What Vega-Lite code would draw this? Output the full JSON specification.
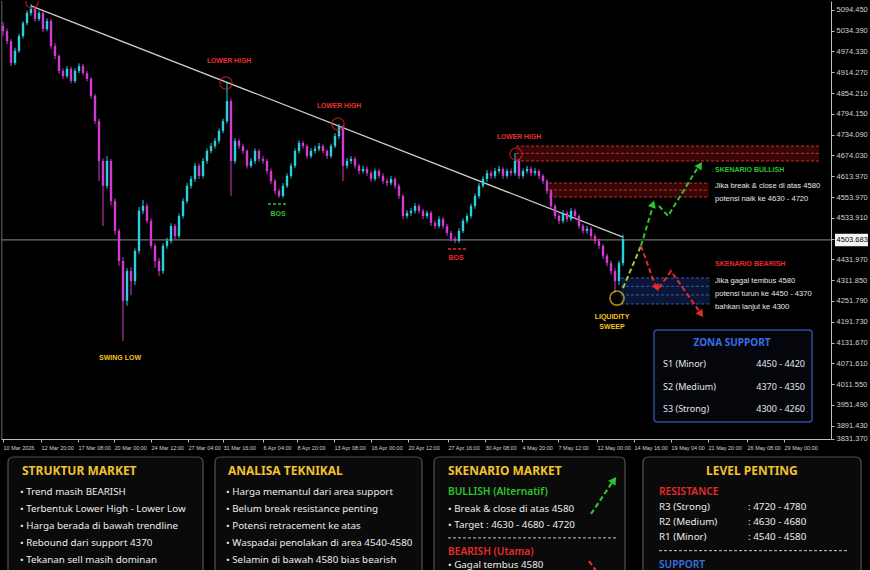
{
  "$schema": "https://vega.github.io/schema/vega-lite/v6.json",
  "background": "#000000",
  "padding": 0,
  "spacing": 2,
  "config": {"view": {"stroke": null}, "axis": {"grid": false, "title": null}, "text": {"font": "Liberation Sans"}},
  "datasets": {
    "candles": [
      {"i":0,"o":5048,"h":5060,"l":5020,"c":5033},{"i":1,"o":5033,"h":5040,"l":4995,"c":5004},{"i":2,"o":5004,"h":5010,"l":4932,"c":4941},{"i":3,"o":4941,"h":4985,"l":4935,"c":4976},{"i":4,"o":4976,"h":5025,"l":4970,"c":5019},{"i":5,"o":5019,"h":5062,"l":5012,"c":5056},{"i":6,"o":5056,"h":5092,"l":5050,"c":5085},{"i":7,"o":5085,"h":5111,"l":5078,"c":5097},{"i":8,"o":5097,"h":5102,"l":5060,"c":5068},{"i":9,"o":5068,"h":5092,"l":5062,"c":5085},
      {"i":10,"o":5085,"h":5090,"l":5030,"c":5039},{"i":11,"o":5039,"h":5070,"l":5033,"c":5062},{"i":12,"o":5062,"h":5068,"l":4982,"c":4990},{"i":13,"o":4990,"h":4998,"l":4952,"c":4961},{"i":14,"o":4961,"h":4966,"l":4910,"c":4918},{"i":15,"o":4918,"h":4925,"l":4895,"c":4903},{"i":16,"o":4903,"h":4932,"l":4897,"c":4924},{"i":17,"o":4924,"h":4930,"l":4882,"c":4889},{"i":18,"o":4889,"h":4926,"l":4883,"c":4918},{"i":19,"o":4918,"h":4940,"l":4912,"c":4932},
      {"i":20,"o":4932,"h":4938,"l":4905,"c":4912},{"i":21,"o":4912,"h":4918,"l":4888,"c":4895},{"i":22,"o":4895,"h":4900,"l":4838,"c":4846},{"i":23,"o":4846,"h":4852,"l":4765,"c":4773},{"i":24,"o":4773,"h":4780,"l":4600,"c":4658},{"i":25,"o":4658,"h":4665,"l":4470,"c":4586},{"i":26,"o":4586,"h":4672,"l":4578,"c":4658},{"i":27,"o":4658,"h":4664,"l":4530,"c":4542},{"i":28,"o":4542,"h":4550,"l":4445,"c":4456},{"i":29,"o":4456,"h":4462,"l":4355,"c":4369},
      {"i":30,"o":4369,"h":4380,"l":4138,"c":4254},{"i":31,"o":4254,"h":4348,"l":4240,"c":4340},{"i":32,"o":4340,"h":4352,"l":4270,"c":4311},{"i":33,"o":4311,"h":4405,"l":4300,"c":4398},{"i":34,"o":4398,"h":4525,"l":4390,"c":4514},{"i":35,"o":4514,"h":4545,"l":4505,"c":4528},{"i":36,"o":4528,"h":4535,"l":4478,"c":4485},{"i":37,"o":4485,"h":4492,"l":4405,"c":4413},{"i":38,"o":4413,"h":4420,"l":4350,"c":4369},{"i":39,"o":4369,"h":4378,"l":4326,"c":4340},
      {"i":40,"o":4340,"h":4420,"l":4332,"c":4413},{"i":41,"o":4413,"h":4436,"l":4405,"c":4427},{"i":42,"o":4427,"h":4478,"l":4420,"c":4470},{"i":43,"o":4470,"h":4476,"l":4432,"c":4441},{"i":44,"o":4441,"h":4506,"l":4435,"c":4499},{"i":45,"o":4499,"h":4550,"l":4492,"c":4542},{"i":46,"o":4542,"h":4594,"l":4535,"c":4586},{"i":47,"o":4586,"h":4615,"l":4578,"c":4606},{"i":48,"o":4606,"h":4652,"l":4598,"c":4644},{"i":49,"o":4644,"h":4650,"l":4606,"c":4615},
      {"i":50,"o":4615,"h":4666,"l":4608,"c":4658},{"i":51,"o":4658,"h":4694,"l":4650,"c":4687},{"i":52,"o":4687,"h":4710,"l":4680,"c":4701},{"i":53,"o":4701,"h":4724,"l":4694,"c":4716},{"i":54,"o":4716,"h":4752,"l":4708,"c":4745},{"i":55,"o":4745,"h":4780,"l":4738,"c":4773},{"i":56,"o":4773,"h":4883,"l":4766,"c":4831},{"i":57,"o":4831,"h":4838,"l":4557,"c":4658},{"i":58,"o":4658,"h":4724,"l":4650,"c":4716},{"i":59,"o":4716,"h":4722,"l":4693,"c":4701},
      {"i":60,"o":4701,"h":4708,"l":4678,"c":4687},{"i":61,"o":4687,"h":4692,"l":4636,"c":4644},{"i":62,"o":4644,"h":4666,"l":4638,"c":4658},{"i":63,"o":4658,"h":4694,"l":4650,"c":4687},{"i":64,"o":4687,"h":4692,"l":4656,"c":4664},{"i":65,"o":4664,"h":4672,"l":4650,"c":4658},{"i":66,"o":4658,"h":4664,"l":4620,"c":4629},{"i":67,"o":4629,"h":4636,"l":4592,"c":4600},{"i":68,"o":4600,"h":4606,"l":4562,"c":4571},{"i":69,"o":4571,"h":4578,"l":4551,"c":4557},
      {"i":70,"o":4557,"h":4594,"l":4552,"c":4586},{"i":71,"o":4586,"h":4622,"l":4580,"c":4615},{"i":72,"o":4615,"h":4652,"l":4608,"c":4644},{"i":73,"o":4644,"h":4694,"l":4638,"c":4687},{"i":74,"o":4687,"h":4718,"l":4680,"c":4710},{"i":75,"o":4710,"h":4716,"l":4694,"c":4701},{"i":76,"o":4701,"h":4706,"l":4664,"c":4672},{"i":77,"o":4672,"h":4695,"l":4666,"c":4687},{"i":78,"o":4687,"h":4702,"l":4680,"c":4693},{"i":79,"o":4693,"h":4710,"l":4686,"c":4701},
      {"i":80,"o":4701,"h":4706,"l":4680,"c":4687},{"i":81,"o":4687,"h":4692,"l":4664,"c":4672},{"i":82,"o":4672,"h":4708,"l":4666,"c":4701},{"i":83,"o":4701,"h":4738,"l":4695,"c":4730},{"i":84,"o":4730,"h":4765,"l":4722,"c":4756},{"i":85,"o":4756,"h":4762,"l":4600,"c":4644},{"i":86,"o":4644,"h":4666,"l":4636,"c":4658},{"i":87,"o":4658,"h":4672,"l":4650,"c":4664},{"i":88,"o":4664,"h":4670,"l":4636,"c":4644},{"i":89,"o":4644,"h":4650,"l":4620,"c":4629},
      {"i":90,"o":4629,"h":4644,"l":4622,"c":4635},{"i":91,"o":4635,"h":4642,"l":4615,"c":4623},{"i":92,"o":4623,"h":4630,"l":4598,"c":4606},{"i":93,"o":4606,"h":4636,"l":4600,"c":4629},{"i":94,"o":4629,"h":4635,"l":4608,"c":4615},{"i":95,"o":4615,"h":4622,"l":4592,"c":4600},{"i":96,"o":4600,"h":4608,"l":4585,"c":4594},{"i":97,"o":4594,"h":4614,"l":4588,"c":4606},{"i":98,"o":4606,"h":4612,"l":4578,"c":4586},{"i":99,"o":4586,"h":4592,"l":4548,"c":4557},
      {"i":100,"o":4557,"h":4562,"l":4490,"c":4499},{"i":101,"o":4499,"h":4516,"l":4492,"c":4508},{"i":102,"o":4508,"h":4522,"l":4500,"c":4514},{"i":103,"o":4514,"h":4536,"l":4506,"c":4528},{"i":104,"o":4528,"h":4534,"l":4506,"c":4514},{"i":105,"o":4514,"h":4520,"l":4490,"c":4499},{"i":106,"o":4499,"h":4515,"l":4492,"c":4508},{"i":107,"o":4508,"h":4514,"l":4470,"c":4479},{"i":108,"o":4479,"h":4486,"l":4462,"c":4470},{"i":109,"o":4470,"h":4498,"l":4464,"c":4490},
      {"i":110,"o":4490,"h":4496,"l":4462,"c":4470},{"i":111,"o":4470,"h":4476,"l":4442,"c":4450},{"i":112,"o":4450,"h":4456,"l":4426,"c":4433},{"i":113,"o":4433,"h":4440,"l":4421,"c":4427},{"i":114,"o":4427,"h":4464,"l":4422,"c":4456},{"i":115,"o":4456,"h":4492,"l":4450,"c":4485},{"i":116,"o":4485,"h":4506,"l":4478,"c":4499},{"i":117,"o":4499,"h":4535,"l":4492,"c":4528},{"i":118,"o":4528,"h":4564,"l":4520,"c":4557},{"i":119,"o":4557,"h":4594,"l":4550,"c":4586},
      {"i":120,"o":4586,"h":4614,"l":4580,"c":4606},{"i":121,"o":4606,"h":4632,"l":4598,"c":4623},{"i":122,"o":4623,"h":4630,"l":4606,"c":4615},{"i":123,"o":4615,"h":4638,"l":4608,"c":4629},{"i":124,"o":4629,"h":4644,"l":4622,"c":4635},{"i":125,"o":4635,"h":4640,"l":4606,"c":4615},{"i":126,"o":4615,"h":4636,"l":4608,"c":4629},{"i":127,"o":4629,"h":4636,"l":4615,"c":4623},{"i":128,"o":4623,"h":4681,"l":4616,"c":4658},{"i":129,"o":4658,"h":4664,"l":4606,"c":4615},
      {"i":130,"o":4615,"h":4636,"l":4608,"c":4629},{"i":131,"o":4629,"h":4644,"l":4622,"c":4635},{"i":132,"o":4635,"h":4642,"l":4615,"c":4623},{"i":133,"o":4623,"h":4637,"l":4616,"c":4629},{"i":134,"o":4629,"h":4634,"l":4606,"c":4615},{"i":135,"o":4615,"h":4620,"l":4592,"c":4600},{"i":136,"o":4600,"h":4606,"l":4562,"c":4571},{"i":137,"o":4571,"h":4576,"l":4520,"c":4528},{"i":138,"o":4528,"h":4534,"l":4490,"c":4499},{"i":139,"o":4499,"h":4506,"l":4476,"c":4485},
      {"i":140,"o":4485,"h":4516,"l":4478,"c":4508},{"i":141,"o":4508,"h":4514,"l":4482,"c":4490},{"i":142,"o":4490,"h":4522,"l":4484,"c":4514},{"i":143,"o":4514,"h":4520,"l":4490,"c":4499},{"i":144,"o":4499,"h":4504,"l":4462,"c":4470},{"i":145,"o":4470,"h":4476,"l":4448,"c":4456},{"i":146,"o":4456,"h":4470,"l":4448,"c":4462},{"i":147,"o":4462,"h":4468,"l":4432,"c":4441},{"i":148,"o":4441,"h":4448,"l":4418,"c":4427},{"i":149,"o":4427,"h":4434,"l":4404,"c":4413},
      {"i":150,"o":4413,"h":4418,"l":4375,"c":4384},{"i":151,"o":4384,"h":4390,"l":4354,"c":4363},{"i":152,"o":4363,"h":4370,"l":4330,"c":4340},{"i":153,"o":4340,"h":4348,"l":4277,"c":4311},{"i":154,"o":4311,"h":4370,"l":4300,"c":4363},{"i":155,"o":4363,"h":4445,"l":4355,"c":4433}
    ]
  },
  "vconcat": [
    {
      "width": 830,
      "height": 438,
      "encoding": {
        "x": {
          "type": "quantitative", "title": null,
          "scale": {"domain": [-0.5, 207], "nice": false, "zero": false, "padding": 0},
          "axis": {
            "orient": "bottom", "title": null,
            "values": [0, 9.5, 18.75, 27.75, 37, 46.25, 55, 65, 73.5, 82.75, 92, 101.25, 111.25, 120.5, 129.75, 138.75, 148.5, 157.75, 167, 176.25, 186, 195.25],
            "labelExpr": "['10 Mar 2026','12 Mar 20:00','17 Mar 08:00','20 Mar 00:00','24 Mar 12:00','27 Mar 04:00','31 Mar 16:00','6 Apr 04:00','8 Apr 20:00','13 Apr 08:00','16 Apr 00:00','20 Apr 12:00','27 Apr 16:00','30 Apr 08:00','4 May 20:00','7 May 12:00','12 May 00:00','14 May 16:00','19 May 04:00','21 May 20:00','26 May 08:00','29 May 00:00'][round(datum.value/9.25)]",
            "labelAlign": "left", "labelAngle": 0, "labelFont": "Liberation Sans", "labelFontSize": 5.5, "labelColor": "#d2d2d2",
            "labelPadding": 3, "labelOverlap": false, "labelFlush": false,
            "tickSize": 3, "tickColor": "#bdbdbd", "domainColor": "#bdbdbd", "grid": false
          }
        },
        "y": {
          "type": "quantitative", "title": null,
          "scale": {"domain": [3855, 5120], "nice": false, "zero": false, "padding": 0},
          "axis": {
            "orient": "right", "title": null,
            "values": [5094.45, 5034.39, 4974.33, 4914.27, 4854.21, 4794.15, 4734.09, 4674.03, 4613.97, 4553.91, 4493.85, 4433.79, 4373.73, 4313.67, 4253.61, 4193.55, 4133.49, 4073.43, 4013.37, 3953.31, 3893.25, 3856],
            "labelExpr": "['5094.450','5034.390','4974.330','4914.270','4854.210','4794.150','4734.090','4674.030','4613.970','4553.970','4533.910','','4431.970','4311.850','4251.790','4191.730','4131.670','4071.610','4011.550','3951.490','3891.430','3831.370'][round((5094.45-datum.value)/60.06)]",
            "labelFont": "Liberation Sans", "labelFontSize": 7.5, "labelColor": "#d2d2d2", "labelPadding": 2,
            "labelOverlap": false, "labelFlush": false, "labelBaseline": "middle",
            "tickSize": 3, "tickColor": "#bdbdbd", "domainColor": "#bdbdbd", "grid": false
          }
        }
      },
      "layer": [
        {
          "data": {"values": [{"x":128.25,"x2":204,"y":4701,"y2":4658},{"x":136.5,"x2":176.5,"y":4594,"y2":4554}]},
          "mark": {"type": "rect", "color": "#4a0a0a", "opacity": 0.75},
          "encoding": {"x": {"field": "x"}, "x2": {"field": "x2"}, "y": {"field": "y"}, "y2": {"field": "y2"}}
        },
        {
          "data": {"values": [{"x":154.5,"x2":176.75,"y":4320,"y2":4245}]},
          "mark": {"type": "rect", "color": "#0c1a3c", "opacity": 0.85},
          "encoding": {"x": {"field": "x"}, "x2": {"field": "x2"}, "y": {"field": "y"}, "y2": {"field": "y2"}}
        },
        {
          "data": {"values": [{"x":128.25,"x2":204,"y":4701},{"x":128.25,"x2":204,"y":4680},{"x":128.25,"x2":204,"y":4658},{"x":136.5,"x2":176.5,"y":4594},{"x":136.5,"x2":176.5,"y":4574},{"x":136.5,"x2":176.5,"y":4554}]},
          "mark": {"type": "rule", "color": "#d42a2a", "strokeDash": [3, 2], "strokeWidth": 1},
          "encoding": {"x": {"field": "x"}, "x2": {"field": "x2"}, "y": {"field": "y"}}
        },
        {
          "data": {"values": [{"x":154.5,"x2":176.75,"y":4320},{"x":154.5,"x2":176.75,"y":4296},{"x":154.5,"x2":176.75,"y":4271},{"x":154.5,"x2":176.75,"y":4245}]},
          "mark": {"type": "rule", "color": "#2e5cc8", "strokeDash": [3, 2], "strokeWidth": 1},
          "encoding": {"x": {"field": "x"}, "x2": {"field": "x2"}, "y": {"field": "y"}}
        },
        {
          "data": {"values": [{"x":-0.5,"x2":207,"y":4430}]},
          "mark": {"type": "rule", "color": "#8c8c8c", "strokeWidth": 1},
          "encoding": {"x": {"field": "x"}, "x2": {"field": "x2"}, "y": {"field": "y"}}
        },
        {
          "data": {"values": [{"x":-0.3,"y":5120,"y2":3855}]},
          "mark": {"type": "rule", "color": "#6a6a6a", "strokeWidth": 1},
          "encoding": {"x": {"field": "x"}, "y": {"field": "y"}, "y2": {"field": "y2"}}
        },
        {
          "data": {"values": [{"x":7,"y":5106,"x2":155,"y2":4438}]},
          "mark": {"type": "rule", "color": "#cfcfcf", "strokeWidth": 1.2},
          "encoding": {"x": {"field": "x"}, "x2": {"field": "x2"}, "y": {"field": "y"}, "y2": {"field": "y2"}}
        },
        {
          "data": {"name": "candles"},
          "mark": {"type": "rule", "strokeWidth": 1},
          "encoding": {
            "x": {"field": "i"},
            "y": {"field": "l"},
            "y2": {"field": "h"},
            "color": {"condition": {"test": "datum.c >= datum.o", "value": "#2bd0dc"}, "value": "#d23ad2"}
          }
        },
        {
          "data": {"name": "candles"},
          "mark": {"type": "bar", "size": 2.4},
          "encoding": {
            "x": {"field": "i"},
            "y": {"field": "o"},
            "y2": {"field": "c"},
            "color": {"condition": {"test": "datum.c >= datum.o", "value": "#2bd0dc"}, "value": "#d23ad2"}
          }
        },
        {
          "data": {"values": [{"x":7.25,"y":5117},{"x":55.75,"y":4883},{"x":83.75,"y":4765},{"x":128.25,"y":4678}]},
          "mark": {"type": "point", "shape": "circle", "filled": false, "size": 150, "color": "#e02424", "strokeWidth": 1.3, "clip": true},
          "encoding": {"x": {"field": "x"}, "y": {"field": "y"}}
        },
        {
          "data": {"values": [{"x":153.5,"y":4262}]},
          "mark": {"type": "point", "shape": "circle", "filled": false, "size": 200, "color": "#f2c21a", "strokeWidth": 1.6},
          "encoding": {"x": {"field": "x"}, "y": {"field": "y"}}
        },
        {
          "data": {"values": [{"x":56.5,"y":4947,"t":"LOWER HIGH"},{"x":84,"y":4817,"t":"LOWER HIGH"},{"x":129,"y":4727,"t":"LOWER HIGH"}]},
          "mark": {"type": "text", "color": "#e8302c", "fontWeight": "bold", "fontSize": 6.8, "align": "center", "baseline": "middle"},
          "encoding": {"x": {"field": "x"}, "y": {"field": "y"}, "text": {"field": "t"}}
        },
        {
          "data": {"values": [{"x":66.25,"x2":71.25,"y":4534,"k":"bull"},{"x":111.25,"x2":115.75,"y":4404,"k":"bear"}]},
          "mark": {"type": "rule", "strokeDash": [3, 2], "strokeWidth": 1.5},
          "encoding": {
            "x": {"field": "x"}, "x2": {"field": "x2"}, "y": {"field": "y"},
            "color": {"field": "k", "type": "nominal", "scale": {"domain": ["start", "bull", "bear", "info"], "range": ["#a8c832", "#2cc42c", "#e82a2a", "#3c6fe0"]}, "legend": null}
          }
        },
        {
          "data": {"values": [{"x":68.75,"y":4505,"t":"BOS","k":"bull"},{"x":113.25,"y":4378,"t":"BOS","k":"bear"}]},
          "mark": {"type": "text", "fontWeight": "bold", "fontSize": 7, "align": "center", "baseline": "middle"},
          "encoding": {
            "x": {"field": "x"}, "y": {"field": "y"}, "text": {"field": "t"},
            "color": {"field": "k", "type": "nominal", "scale": {"domain": ["start", "bull", "bear", "info"], "range": ["#a8c832", "#2cc42c", "#e82a2a", "#3c6fe0"]}, "legend": null}
          }
        },
        {
          "data": {"values": [{"x":29.25,"y":4089,"t":"SWING LOW"},{"x":152.25,"y":4208,"t":"LIQUIDITY"},{"x":152.25,"y":4179,"t":"SWEEP"}]},
          "mark": {"type": "text", "color": "#f5c518", "fontWeight": "bold", "fontSize": 7, "align": "center", "baseline": "middle"},
          "encoding": {"x": {"field": "x"}, "y": {"field": "y"}, "text": {"field": "t"}}
        },
        {
          "data": {"values": [
            {"seg":"g0","ord":0,"x":155,"y":4291,"k":"start"},{"seg":"g0","ord":1,"x":159.5,"y":4413,"k":"start"},
            {"seg":"g1","ord":0,"x":159.5,"y":4413,"k":"bull"},{"seg":"g1","ord":1,"x":162.5,"y":4528,"k":"bull"},
            {"seg":"g2","ord":0,"x":164,"y":4528,"k":"bull"},{"seg":"g2","ord":1,"x":166.25,"y":4499,"k":"bull"},{"seg":"g2","ord":2,"x":173.75,"y":4640,"k":"bull"},
            {"seg":"r1","ord":0,"x":159.5,"y":4413,"k":"bear"},{"seg":"r1","ord":1,"x":163,"y":4300,"k":"bear"},
            {"seg":"r2","ord":0,"x":164,"y":4291,"k":"bear"},{"seg":"r2","ord":1,"x":167,"y":4340,"k":"bear"},{"seg":"r2","ord":2,"x":174,"y":4225,"k":"bear"}
          ]},
          "mark": {"type": "line", "strokeDash": [5, 3], "strokeWidth": 2},
          "encoding": {
            "x": {"field": "x"}, "y": {"field": "y"},
            "detail": {"field": "seg"},
            "order": {"field": "ord"},
            "color": {"field": "k", "type": "nominal", "scale": {"domain": ["start", "bull", "bear", "info"], "range": ["#a8c832", "#2cc42c", "#e82a2a", "#3c6fe0"]}, "legend": null}
          }
        },
        {
          "data": {"values": [{"x":162.5,"y":4534,"heading":18,"k":"bull"},{"x":174.25,"y":4646,"heading":32,"k":"bull"},{"x":163.5,"y":4291,"heading":157,"k":"bear"},{"x":174.5,"y":4216,"heading":145,"k":"bear"}]},
          "mark": {"type": "point", "shape": "triangle-up", "filled": true, "size": 70, "opacity": 1},
          "encoding": {
            "x": {"field": "x"}, "y": {"field": "y"},
            "angle": {"field": "heading", "type": "quantitative", "scale": null},
            "color": {"field": "k", "type": "nominal", "scale": {"domain": ["start", "bull", "bear", "info"], "range": ["#a8c832", "#2cc42c", "#e82a2a", "#3c6fe0"]}, "legend": null}
          }
        },
        {
          "data": {"values": [{"x":178,"y":4632,"t":"SKENARIO BULLISH","k":"bull"},{"x":178,"y":4361,"t":"SKENARIO BEARISH","k":"bear"}]},
          "mark": {"type": "text", "fontWeight": "bold", "fontSize": 7, "align": "left", "baseline": "middle"},
          "encoding": {
            "x": {"field": "x"}, "y": {"field": "y"}, "text": {"field": "t"},
            "color": {"field": "k", "type": "nominal", "scale": {"domain": ["start", "bull", "bear", "info"], "range": ["#a8c832", "#2cc42c", "#e82a2a", "#3c6fe0"]}, "legend": null}
          }
        },
        {
          "data": {"values": [{"x":178,"y":4586,"t":"Jika break & close di atas 4580"},{"x":178,"y":4548,"t":"potensi naik ke 4630 - 4720"},{"x":178,"y":4312,"t":"Jika gagal tembus 4580"},{"x":178,"y":4274,"t":"potensi turun ke 4450 - 4370"},{"x":178,"y":4236,"t":"bahkan lanjut ke 4300"}]},
          "mark": {"type": "text", "color": "#e8e8e8", "fontSize": 7.6, "align": "left", "baseline": "middle"},
          "encoding": {"x": {"field": "x"}, "y": {"field": "y"}, "text": {"field": "t"}}
        },
        {
          "data": {"values": [{"x":162.75,"x2":202.25,"y":4170,"y2":3904}]},
          "mark": {"type": "rect", "fill": "#04060c", "stroke": "#2b4c9c", "strokeWidth": 1.5, "cornerRadius": 3},
          "encoding": {"x": {"field": "x"}, "x2": {"field": "x2"}, "y": {"field": "y"}, "y2": {"field": "y2"}}
        },
        {
          "data": {"values": [{"x":182.25,"y":4133,"t":"ZONA SUPPORT"}]},
          "mark": {"type": "text", "color": "#3a6ee6", "fontWeight": "bold", "fontSize": 10, "align": "center", "baseline": "middle", "font": "Noto Sans"},
          "encoding": {"x": {"field": "x"}, "y": {"field": "y"}, "text": {"field": "t"}}
        },
        {
          "data": {"values": [{"x":165,"y":4072,"t":"S1 (Minor)"},{"x":165,"y":4006,"t":"S2 (Medium)"},{"x":165,"y":3942,"t":"S3 (Strong)"}]},
          "mark": {"type": "text", "color": "#e6e6e6", "fontSize": 9, "align": "left", "baseline": "middle", "font": "Noto Sans"},
          "encoding": {"x": {"field": "x"}, "y": {"field": "y"}, "text": {"field": "t"}}
        },
        {
          "data": {"values": [{"x":200.5,"y":4072,"t":"4450 - 4420"},{"x":200.5,"y":4006,"t":"4370 - 4350"},{"x":200.5,"y":3942,"t":"4300 - 4260"}]},
          "mark": {"type": "text", "color": "#e6e6e6", "fontSize": 9, "align": "right", "baseline": "middle", "font": "Noto Sans"},
          "encoding": {"x": {"field": "x"}, "y": {"field": "y"}, "text": {"field": "t"}}
        },
        {
          "data": {"values": [{"x":208,"x2":216.25,"y":4448,"y2":4412}]},
          "mark": {"type": "rect", "fill": "#f4f4f4"},
          "encoding": {"x": {"field": "x"}, "x2": {"field": "x2"}, "y": {"field": "y"}, "y2": {"field": "y2"}}
        },
        {
          "data": {"values": [{"x":208.4,"y":4430,"t":"4503.683"}]},
          "mark": {"type": "text", "color": "#000000", "fontSize": 7.5, "align": "left", "baseline": "middle"},
          "encoding": {"x": {"field": "x"}, "y": {"field": "y"}, "text": {"field": "t"}}
        }
      ]
    },
    {
      "width": 870,
      "height": 118,
      "encoding": {
        "x": {"type": "quantitative", "title": null, "scale": {"domain": [0, 870], "nice": false, "zero": false, "padding": 0}, "axis": null},
        "y": {"type": "quantitative", "title": null, "scale": {"domain": [-1.294, 5.647], "reverse": true, "nice": false, "zero": false, "padding": 0}, "axis": null}
      },
      "layer": [
        {
          "data": {"values": [{"col":7,"col2":202,"line":-1.06,"line2":6.5},{"col":214,"col2":421,"line":-1.06,"line2":6.5},{"col":433,"col2":624,"line":-1.06,"line2":6.5},{"col":642,"col2":860,"line":-1.06,"line2":6.5}]},
          "mark": {"type": "rect", "fill": "#0a0a0a", "stroke": "#505050", "strokeWidth": 1.2, "cornerRadius": 5},
          "encoding": {"x": {"field": "col"}, "x2": {"field": "col2"}, "y": {"field": "line"}, "y2": {"field": "line2"}}
        },
        {
          "data": {"values": [{"col":21,"line":-0.25,"t":"STRUKTUR MARKET"},{"col":227,"line":-0.25,"t":"ANALISA TEKNIKAL"},{"col":447,"line":-0.25,"t":"SKENARIO MARKET"},{"col":705,"line":-0.25,"t":"LEVEL PENTING"}]},
          "mark": {"type": "text", "color": "#f2c12e", "fontWeight": "bold", "fontSize": 12, "align": "left", "baseline": "middle", "font": "Noto Sans"},
          "encoding": {"x": {"field": "col"}, "y": {"field": "line"}, "text": {"field": "t"}}
        },
        {
          "data": {"values": [
            {"col":19,"line":1,"t":"•  Trend masih BEARISH"},
            {"col":19,"line":2,"t":"•  Terbentuk Lower High - Lower Low"},
            {"col":19,"line":3,"t":"•  Harga berada di bawah trendline"},
            {"col":19,"line":4,"t":"•  Rebound dari support 4370"},
            {"col":19,"line":5,"t":"•  Tekanan sell masih dominan"},
            {"col":225,"line":1,"t":"•  Harga memantul dari area support"},
            {"col":225,"line":2,"t":"•  Belum break resistance penting"},
            {"col":225,"line":3,"t":"•  Potensi retracement ke atas"},
            {"col":225,"line":4,"t":"•  Waspadai penolakan di area 4540-4580"},
            {"col":225,"line":5,"t":"•  Selamin di bawah 4580 bias bearish"},
            {"col":447,"line":2,"t":"•  Break & close di atas 4580"},
            {"col":447,"line":2.95,"t":"•  Target :  4630 - 4680 - 4720"},
            {"col":447,"line":5.3,"t":"•  Gagal tembus 4580"},
            {"col":658,"line":1.9,"t":"R3 (Strong)"},
            {"col":658,"line":2.75,"t":"R2 (Medium)"},
            {"col":658,"line":3.65,"t":"R1 (Minor)"},
            {"col":747,"line":1.9,"t":":  4720 - 4780"},
            {"col":747,"line":2.75,"t":":  4630 - 4680"},
            {"col":747,"line":3.65,"t":":  4540 - 4580"}
          ]},
          "mark": {"type": "text", "color": "#ececec", "fontSize": 9.8, "align": "left", "baseline": "middle", "font": "Noto Sans"},
          "encoding": {"x": {"field": "col"}, "y": {"field": "line"}, "text": {"field": "t"}}
        },
        {
          "data": {"values": [{"col":447,"line":1,"t":"BULLISH (Alternatif)","k":"bull"},{"col":447,"line":4.5,"t":"BEARISH (Utama)","k":"bear"},{"col":658,"line":0.98,"t":"RESISTANCE","k":"bear"},{"col":658,"line":5.3,"t":"SUPPORT","k":"info"}]},
          "mark": {"type": "text", "fontWeight": 600, "fontSize": 10.2, "align": "left", "baseline": "middle", "font": "Noto Sans"},
          "encoding": {
            "x": {"field": "col"}, "y": {"field": "line"}, "text": {"field": "t"},
            "color": {"field": "k", "type": "nominal", "scale": {"domain": ["start", "bull", "bear", "info"], "range": ["#a8c832", "#2cc42c", "#e82a2a", "#3c6fe0"]}, "legend": null}
          }
        },
        {
          "data": {"values": [{"col":447,"col2":616,"line":3.7,"k":"sep"},{"col":658,"col2":847,"line":4.45,"k":"sep"}]},
          "mark": {"type": "rule", "color": "#c8c8c8", "strokeDash": [3, 2], "strokeWidth": 1},
          "encoding": {"x": {"field": "col"}, "x2": {"field": "col2"}, "y": {"field": "line"}}
        },
        {
          "data": {"values": [{"seg":"g","ord":0,"col":590,"line":2.29,"k":"bull"},{"seg":"g","ord":1,"col":611,"line":0.45,"k":"bull"},{"seg":"r","ord":0,"col":588,"line":5.06,"k":"bear"},{"seg":"r","ord":1,"col":602,"line":6.2,"k":"bear"}]},
          "mark": {"type": "line", "strokeDash": [5, 3], "strokeWidth": 2.2},
          "encoding": {
            "x": {"field": "col"}, "y": {"field": "line"},
            "detail": {"field": "seg"},
            "order": {"field": "ord"},
            "color": {"field": "k", "type": "nominal", "scale": {"domain": ["start", "bull", "bear", "info"], "range": ["#a8c832", "#2cc42c", "#e82a2a", "#3c6fe0"]}, "legend": null}
          }
        },
        {
          "data": {"values": [{"col":613,"line":0.3,"heading":35,"k":"bull"}]},
          "mark": {"type": "point", "shape": "triangle-up", "filled": true, "size": 80, "opacity": 1},
          "encoding": {
            "x": {"field": "col"}, "y": {"field": "line"},
            "angle": {"field": "heading", "type": "quantitative", "scale": null},
            "color": {"field": "k", "type": "nominal", "scale": {"domain": ["start", "bull", "bear", "info"], "range": ["#a8c832", "#2cc42c", "#e82a2a", "#3c6fe0"]}, "legend": null}
          }
        }
      ]
    }
  ]
}
